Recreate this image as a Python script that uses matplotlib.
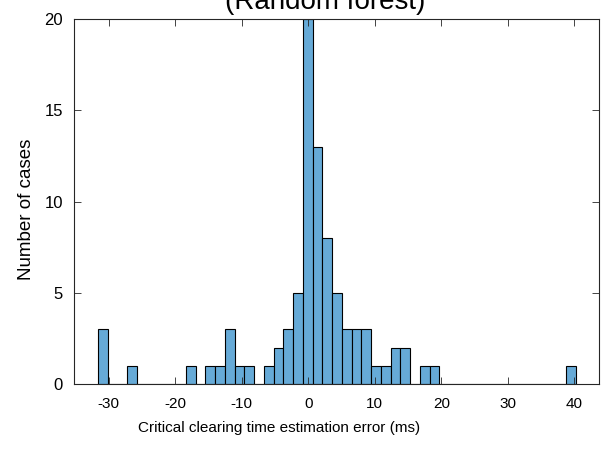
import numpy as np
import matplotlib.pyplot as plt

plt.rcParams['font.family'] = ['Liberation Sans', 'DejaVu Sans']
plt.rcParams['axes.unicode_minus'] = False

# histogram: first bin edge, bin width and counts per bin
first_edge = -31.62
bin_width = 1.466
counts = [3, 0, 0, 1, 0, 0, 0, 0, 0, 1, 0, 1, 1, 3, 1, 1, 0, 1, 2, 3, 5, 20, 13, 8, 5,
          3, 3, 3, 1, 1, 2, 2, 0, 1, 1, 0, 0, 0, 0, 0, 0, 0, 0, 0, 0, 0, 0, 0, 1]
x_ticks = [-30, -20, -10, 0, 10, 20, 30, 40]
y_ticks = [0, 5, 10, 15, 20]

edges = first_edge + bin_width * np.arange(len(counts) + 1)

fig = plt.figure(figsize=(6.03, 4.49), dpi=100)
ax = fig.add_axes([74 / 603, 65 / 449, 525 / 603, 365 / 449])

ax.hist(edges[:-1], bins=edges, weights=counts, color='#66AAD7',
        edgecolor='black', linewidth=0.8)

ax.set_xlim(-35.23, 43.7)
ax.set_ylim(0, 20)
ax.set_xticks(x_ticks)
ax.set_yticks(y_ticks)
ax.tick_params(direction='in', top=True, right=True, length=5, width=0.6,
               color='#262626')
ax.tick_params(axis='x', labelsize=11, pad=9)
ax.tick_params(axis='y', labelsize=12, pad=8)
for s in ax.spines.values():
    s.set_color('#262626')
    s.set_linewidth(0.8)

ax.set_xlabel('Critical clearing time estimation error (ms)', fontsize=11)
ax.xaxis.set_label_coords((279.5 - 74) / 525, -37 / 365)
ax.set_ylabel('Number of cases', fontsize=13.5)
ax.yaxis.set_label_coords(-39 / 525, (384 - 209) / 365)

fig.text(325 / 603, 1 - 9 / 449, '(Random forest)', fontsize=20,
         ha='center', va='baseline')

fig.savefig('out.png', dpi=100)
